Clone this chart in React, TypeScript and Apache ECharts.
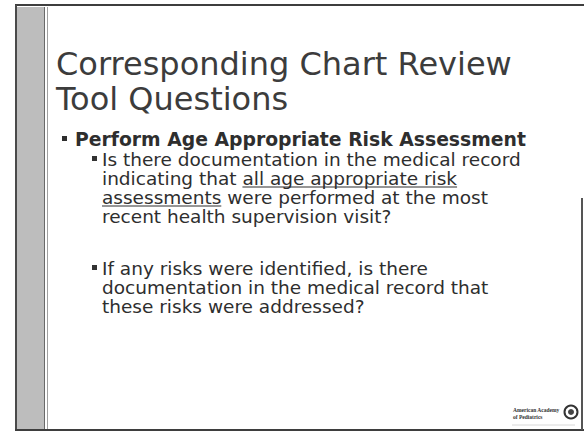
import React, { useEffect, useRef } from "react";
import * as echarts from "echarts";

const titleLines = ["Corresponding Chart Review", "Tool Questions"];
const headingText = "Perform Age Appropriate Risk Assessment";
// each line: [plain prefix, underlined part, plain suffix]
const bullet1Lines: [string, string, string][] = [
  ["Is there documentation in the medical record", "", ""],
  ["indicating that ", "all age appropriate risk", ""],
  ["", "assessments", " were performed at the most"],
  ["recent health supervision visit?", "", ""],
];
const bullet2Lines: [string, string, string][] = [
  ["If any risks were identified, is there", "", ""],
  ["documentation in the medical record that", "", ""],
  ["these risks were addressed?", "", ""],
];
const logoLines = ["American Academy", "of Pediatrics"];

const FONT = "DejaVu Sans";

function measure(text: string, size: number, weight = "normal") {
  const c = document.createElement("canvas");
  const ctx = c.getContext("2d")!;
  ctx.font = `${weight} ${size}px "${FONT}"`;
  return ctx.measureText(text).width;
}

export default function App() {
  const ref = useRef<HTMLDivElement>(null);
  useEffect(() => {
    const chart = echarts.init(ref.current!, null, { renderer: "svg" });
    const els: any[] = [];
    // frame
    els.push({ type: "rect", shape: { x: 17, y: 7, width: 27, height: 423 }, style: { fill: "#bdbdbd" } });
    els.push({ type: "line", shape: { x1: 15, y1: 5, x2: 584, y2: 5 }, style: { stroke: "#3e3e3e", lineWidth: 2 } });
    els.push({ type: "line", shape: { x1: 16, y1: 5, x2: 16, y2: 431 }, style: { stroke: "#4a4a4a", lineWidth: 2 } });
    els.push({ type: "line", shape: { x1: 44.5, y1: 7, x2: 44.5, y2: 430 }, style: { stroke: "#6a6a6a", lineWidth: 1 } });
    els.push({ type: "line", shape: { x1: 47.5, y1: 7, x2: 47.5, y2: 430 }, style: { stroke: "#a0a0a0", lineWidth: 1 } });
    els.push({ type: "line", shape: { x1: 15, y1: 430, x2: 584, y2: 430 }, style: { stroke: "#3e3e3e", lineWidth: 2 } });
    els.push({ type: "line", shape: { x1: 582, y1: 198, x2: 582, y2: 430 }, style: { stroke: "#555", lineWidth: 2 } });

    // title
    titleLines.forEach((t, i) => {
      els.push({
        type: "text", x: 56, y: 64 + i * 35,
        style: { text: t, fontFamily: FONT, fontSize: 32, fill: "#3c3c3c", verticalAlign: "middle" },
      });
    });
    // heading
    els.push({ type: "rect", shape: { x: 62, y: 136, width: 5, height: 5 }, style: { fill: "#2e2e2e" } });
    els.push({
      type: "text", x: 75, y: 139,
      style: { text: headingText, fontFamily: FONT, fontSize: 18.8, fontWeight: "bold", fill: "#2e2e2e", verticalAlign: "middle" },
    });

    const subSize = 18.5;
    const drawLines = (lines: [string, string, string][], y0: number) => {
      els.push({ type: "rect", shape: { x: 92, y: y0 - 3, width: 5, height: 5 }, style: { fill: "#333" } });
      lines.forEach((ln, i) => {
        const y = y0 + i * 19;
        let x = 102;
        ln.forEach((part, k) => {
          if (!part) return;
          els.push({
            type: "text", x, y,
            style: { text: part, fontFamily: FONT, fontSize: subSize, fill: "#2e2e2e", verticalAlign: "middle" },
          });
          const w = measure(part, subSize);
          if (k === 1) {
            els.push({ type: "line", shape: { x1: x, y1: y + 9, x2: x + w, y2: y + 9 }, style: { stroke: "#2e2e2e", lineWidth: 1.2 } });
          }
          x += w;
        });
      });
    };
    drawLines(bullet1Lines, 159);
    drawLines(bullet2Lines, 268);

    // logo
    logoLines.forEach((t, i) => {
      els.push({
        type: "text", x: 513, y: 410 + i * 7,
        style: { text: t, fontFamily: "Liberation Serif", fontSize: 5.5, fontWeight: "bold", fill: "#333", verticalAlign: "middle" },
      });
    });
    els.push({ type: "circle", shape: { cx: 571, cy: 412, r: 6.5 }, style: { fill: "#fff", stroke: "#333", lineWidth: 2 } });
    els.push({ type: "circle", shape: { cx: 571, cy: 412, r: 3 }, style: { fill: "#444" } });
    els.push({ type: "line", shape: { x1: 512, y1: 425, x2: 575, y2: 425 }, style: { stroke: "#d8d8d8", lineWidth: 1 } });

    chart.setOption({ animation: false, backgroundColor: "#ffffff", graphic: { elements: els } });
    return () => chart.dispose();
  }, []);
  return <div ref={ref} style={{ position: "fixed", left: 0, top: 0, width: 584, height: 432 }} />;
}
